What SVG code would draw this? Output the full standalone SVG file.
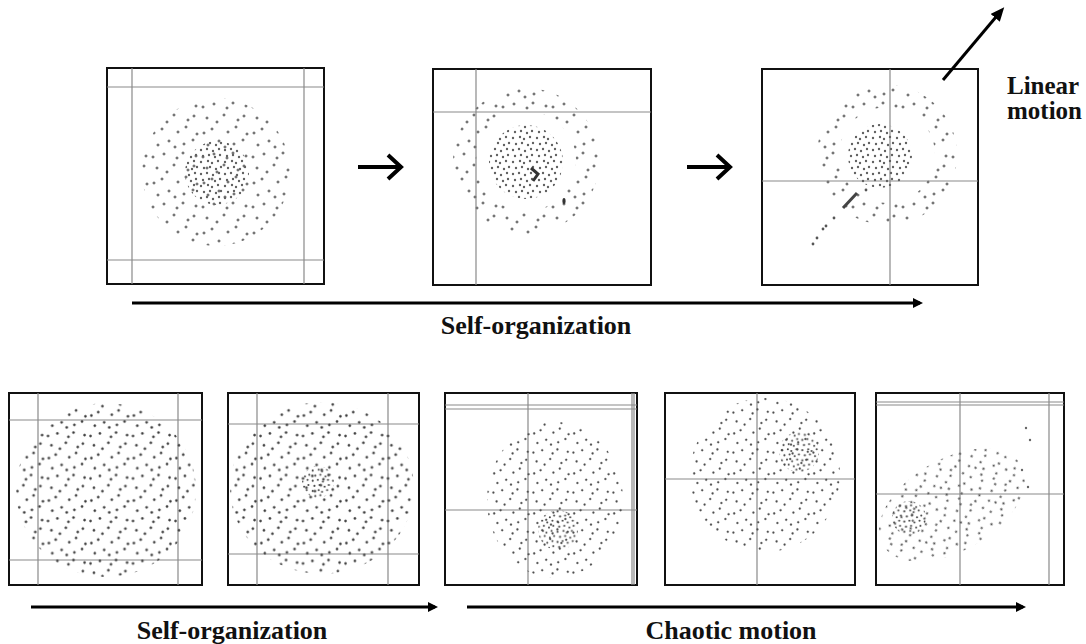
<svg xmlns="http://www.w3.org/2000/svg" xmlns:xlink="http://www.w3.org/1999/xlink" width="1086" height="644" viewBox="0 0 1086 644">
<style>
.frame{fill:none;stroke:#111;stroke-width:2}
.grid{stroke:#8a8a8a;stroke-width:1.2;fill:none}
.lbl{font-family:"Liberation Serif","Times New Roman",serif;font-weight:bold;font-size:26px;fill:#111}
.conn{stroke:#000;stroke-width:3;fill:none}
.chev{stroke:#000;stroke-width:4;fill:none;stroke-linejoin:miter}
</style>
<defs>
<g id="d50">
<circle cx="3" cy="7" r="1.3"/><circle cx="14" cy="4" r="1.3"/><circle cx="27" cy="8" r="1.3"/><circle cx="33" cy="3" r="1.3"/><circle cx="46" cy="6" r="1.3"/>
<circle cx="7" cy="18" r="1.3"/><circle cx="17" cy="22" r="1.3"/><circle cx="24" cy="15" r="1.3"/><circle cx="38" cy="20" r="1.3"/><circle cx="44" cy="16" r="1.3"/>
<circle cx="4" cy="33" r="1.3"/><circle cx="12" cy="29" r="1.3"/><circle cx="28" cy="32" r="1.3"/><circle cx="36" cy="27" r="1.3"/><circle cx="47" cy="34" r="1.3"/>
<circle cx="8" cy="45" r="1.3"/><circle cx="19" cy="41" r="1.3"/><circle cx="25" cy="47" r="1.3"/><circle cx="34" cy="44" r="1.3"/><circle cx="43" cy="40" r="1.3"/>
</g>
<g id="d24">
<circle cx="2" cy="3" r="1.2"/><circle cx="8" cy="2" r="1.2"/><circle cx="14" cy="4" r="1.2"/><circle cx="20" cy="2" r="1.2"/>
<circle cx="4" cy="9" r="1.2"/><circle cx="10" cy="8" r="1.2"/><circle cx="16" cy="10" r="1.2"/><circle cx="21" cy="8" r="1.2"/>
<circle cx="2" cy="15" r="1.2"/><circle cx="9" cy="14" r="1.2"/><circle cx="13" cy="16" r="1.2"/><circle cx="19" cy="14" r="1.2"/>
<circle cx="5" cy="21" r="1.2"/><circle cx="11" cy="20" r="1.2"/><circle cx="17" cy="22" r="1.2"/><circle cx="22" cy="20" r="1.2"/>
</g>
<pattern id="pT" width="50" height="50" patternUnits="userSpaceOnUse"><use href="#d50" fill="#6e6e6e" stroke="#8a8a8a" stroke-width="0.4"/></pattern>
<pattern id="pTd" width="24" height="24" patternUnits="userSpaceOnUse" patternTransform="translate(7,3)"><use href="#d24" fill="#606060"/></pattern>
<pattern id="pB" width="50" height="50" patternUnits="userSpaceOnUse" patternTransform="translate(3,5) scale(0.85)"><use href="#d50" fill="#333" stroke="#555" stroke-width="0.7"/></pattern>
<pattern id="pC" width="50" height="50" patternUnits="userSpaceOnUse" patternTransform="translate(11,7) scale(0.8)"><use href="#d50" fill="#4a4a4a" stroke="#777" stroke-width="0.4"/></pattern>
<pattern id="pCd" width="24" height="24" patternUnits="userSpaceOnUse" patternTransform="translate(5,9) scale(0.85)"><use href="#d24" fill="#444"/></pattern>
<marker id="ah" markerWidth="10" markerHeight="10" refX="7" refY="5" orient="auto" markerUnits="userSpaceOnUse" viewBox="0 0 10 10"><path d="M0,0 L10,5 L0,10 Z" fill="#000"/></marker>
<marker id="ahL" markerWidth="14" markerHeight="12" refX="9" refY="6" orient="auto" markerUnits="userSpaceOnUse" viewBox="0 0 14 12"><path d="M0,0 L14,6 L0,12 Z" fill="#000"/></marker>
</defs>

<g id="panel-t1">
<rect class="frame" x="107" y="68" width="217" height="216"/>
<path class="grid" d="M132,68V284M304,68V284M107,87H324M107,260H324"/>
<circle cx="216" cy="172" r="74" fill="url(#pT)"/>
<circle cx="217" cy="173" r="32" fill="url(#pTd)"/>
</g>

<g id="panel-t2">
<rect class="frame" x="433" y="69" width="218" height="216"/>
<path class="grid" d="M476,69V285M433,112H651"/>
<path d="M526,88a73,73 0 1,0 0.1,0ZM526,111a50,50 0 1,0 0.1,0Z" fill="url(#pT)" fill-rule="evenodd"/>
<circle cx="526" cy="162" r="37" fill="url(#pTd)"/>
<path d="M531,168 L538,174 L533,181" stroke="#333" stroke-width="3" fill="none"/>
<ellipse cx="564" cy="201" rx="1.6" ry="3" fill="#333"/>
</g>

<g id="panel-t3">
<rect class="frame" x="762" y="69" width="216" height="216"/>
<path class="grid" d="M890,69V285M762,181H978"/>
<path d="M887,85a70,70 0 1,0 0.1,0ZM887,107a48,48 0 1,0 0.1,0Z" fill="url(#pT)" fill-rule="evenodd"/>
<circle cx="880" cy="156" r="32" fill="url(#pTd)"/>
<g fill="#555">
<circle cx="813" cy="244" r="1.4"/><circle cx="817" cy="238" r="1.4"/><circle cx="823" cy="229" r="1.4"/><circle cx="826" cy="226" r="1.4"/><circle cx="834" cy="218" r="1.4"/><circle cx="866" cy="190" r="1.4"/>
</g>
<path d="M843,208 L857,193" stroke="#444" stroke-width="3"/>
</g>

<g id="panel-b1">
<rect class="frame" x="9" y="393" width="193" height="192"/>
<path class="grid" d="M38,393V585M178,393V585M9,420H202M9,560H202"/>
<ellipse cx="106" cy="490" rx="90" ry="87" fill="url(#pB)"/>
</g>

<g id="panel-b2">
<rect class="frame" x="228" y="393" width="191" height="192"/>
<path class="grid" d="M257,393V585M388,393V585M228,424H419M228,554H419"/>
<ellipse cx="322" cy="488" rx="92" ry="86" fill="url(#pB)"/>
<circle cx="318" cy="482" r="16" fill="url(#pCd)"/>
</g>

<g id="panel-b3">
<rect class="frame" x="445" y="393" width="192" height="192"/>
<path class="grid" d="M528,393V585M632,393V585M634,393V585M445,405H637M445,409H637M445,510H637"/>
<ellipse cx="555" cy="500" rx="68" ry="78" fill="url(#pC)"/>
<circle cx="558" cy="530" r="20" fill="url(#pCd)"/>
</g>

<g id="panel-b4">
<rect class="frame" x="665" y="393" width="190" height="192"/>
<path class="grid" d="M757,393V585M665,479H855"/>
<ellipse cx="765" cy="475" rx="75" ry="77" fill="url(#pC)"/>
<circle cx="799" cy="452" r="20" fill="url(#pCd)"/>
</g>

<g id="panel-b5">
<rect class="frame" x="876" y="393" width="188" height="192"/>
<path class="grid" d="M960,393V585M1049,393V585M876,402H1064M876,405H1064M876,494H1064"/>
<ellipse cx="952" cy="505" rx="80" ry="46" transform="rotate(-30 952 505)" fill="url(#pC)"/>
<circle cx="909" cy="518" r="17" fill="url(#pCd)"/>
<g fill="#666"><circle cx="1026" cy="428" r="1.2"/><circle cx="1030" cy="440" r="1.2"/><circle cx="1028" cy="487" r="1.2"/><circle cx="1022" cy="470" r="1.2"/></g>
</g>

<g id="connectors">
<path class="chev" d="M358,167H400M388,155L401,167L388,179"/>
<path class="chev" d="M687,167H729M717,155L730,167L717,179"/>
<line class="conn" x1="132" y1="303" x2="920" y2="303" marker-end="url(#ah)"/>
<line class="conn" x1="943" y1="80" x2="1001" y2="11" marker-end="url(#ahL)"/>
<line class="conn" x1="31" y1="607" x2="435" y2="607" marker-end="url(#ah)"/>
<line class="conn" x1="467" y1="607" x2="1023" y2="607" marker-end="url(#ah)"/>
</g>

<g id="labels">
<text class="lbl" x="536" y="334" text-anchor="middle">Self-organization</text>
<text class="lbl" x="1007" y="94" style="font-size:25px">Linear</text>
<text class="lbl" x="1007" y="119" style="font-size:25px">motion</text>
<text class="lbl" x="232" y="639" text-anchor="middle">Self-organization</text>
<text class="lbl" x="731" y="639" text-anchor="middle">Chaotic motion</text>
</g>
</svg>
